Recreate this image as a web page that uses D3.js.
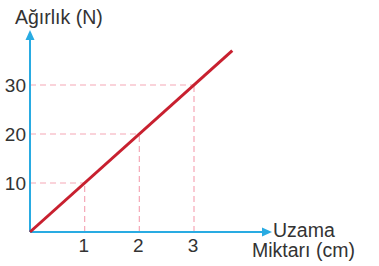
<!DOCTYPE html>
<html>
<head>
<meta charset="utf-8">
<script src="https://cdn.jsdelivr.net/npm/d3@7"></script>
<style>
  body { margin: 0; background: #fff; }
  svg { display: block; }
  text { font-family: "Liberation Sans", Arial, sans-serif; fill: #333; }
</style>
</head>
<body>
<svg id="chart" width="379" height="266"></svg>
<script>
const svg = d3.select("#chart");

// data
const guideX = [1, 2, 3];
const guideY = [10, 20, 30];
const linePoints = [[0, 0], [3.7, 37]];
const yTitle = "Ağırlık (N)";
const xTitle = ["Uzama", "Miktarı (cm)"];

const origin = { x: 30, y: 232 };

const xScale = d3.scaleLinear().domain([0, 3]).range([origin.x, 194]);
const yScale = d3.scaleLinear().domain([0, 30]).range([origin.y, 85]);

const blue = "#29abe2";
const pink = "#f5a7b6";
const red = "#c8202f";

// dashed guides
guideX.forEach((v, i) => {
    svg.append("line")
        .attr("x1", xScale(v)).attr("x2", xScale(v))
        .attr("y1", origin.y).attr("y2", yScale(guideY[i]))
        .attr("stroke", pink).attr("stroke-width", 1.2)
        .attr("stroke-dasharray", "6,4");
    svg.append("line")
        .attr("x1", origin.x).attr("x2", xScale(v))
        .attr("y1", yScale(guideY[i])).attr("y2", yScale(guideY[i]))
        .attr("stroke", pink).attr("stroke-width", 1.2)
        .attr("stroke-dasharray", "6,4");
});

// axes
svg.append("line")
    .attr("x1", origin.x).attr("x2", origin.x)
    .attr("y1", origin.y).attr("y2", 34)
    .attr("stroke", blue).attr("stroke-width", 2);
svg.append("path")
    .attr("d", `M${origin.x},30 L${origin.x - 4.5},40 L${origin.x + 4.5},40 Z`)
    .attr("fill", blue);

svg.append("line")
    .attr("x1", origin.x).attr("x2", 268)
    .attr("y1", origin.y).attr("y2", origin.y)
    .attr("stroke", blue).attr("stroke-width", 2);
svg.append("path")
    .attr("d", `M272,${origin.y} L262,${origin.y - 4.5} L262,${origin.y + 4.5} Z`)
    .attr("fill", blue);

// line
const line = d3.line()
    .x(d => xScale(d[0]))
    .y(d => yScale(d[1]));

svg.append("path")
    .attr("d", line(linePoints))
    .attr("stroke", red).attr("stroke-width", 3)
    .attr("fill", "none");

// tick labels
svg.selectAll(".xt")
    .data(guideX)
    .enter()
    .append("text")
        .attr("class", "xt")
        .attr("x", d => xScale(d) - 1)
        .attr("y", 252)
        .attr("text-anchor", "middle")
        .attr("font-size", 19)
        .text(d => d);

svg.selectAll(".yt")
    .data(guideY)
    .enter()
    .append("text")
        .attr("class", "yt")
        .attr("x", 26)
        .attr("y", d => yScale(d) + 7)
        .attr("text-anchor", "end")
        .attr("font-size", 19)
        .text(d => d);

// titles
svg.append("text")
    .attr("x", 15).attr("y", 24)
    .attr("font-size", 19.5)
    .text(yTitle);

svg.append("text")
    .attr("x", 273).attr("y", 237)
    .attr("font-size", 19.5)
    .text(xTitle[0]);
svg.append("text")
    .attr("x", 252).attr("y", 257)
    .attr("font-size", 19.5)
    .text(xTitle[1]);
</script>
</body>
</html>
